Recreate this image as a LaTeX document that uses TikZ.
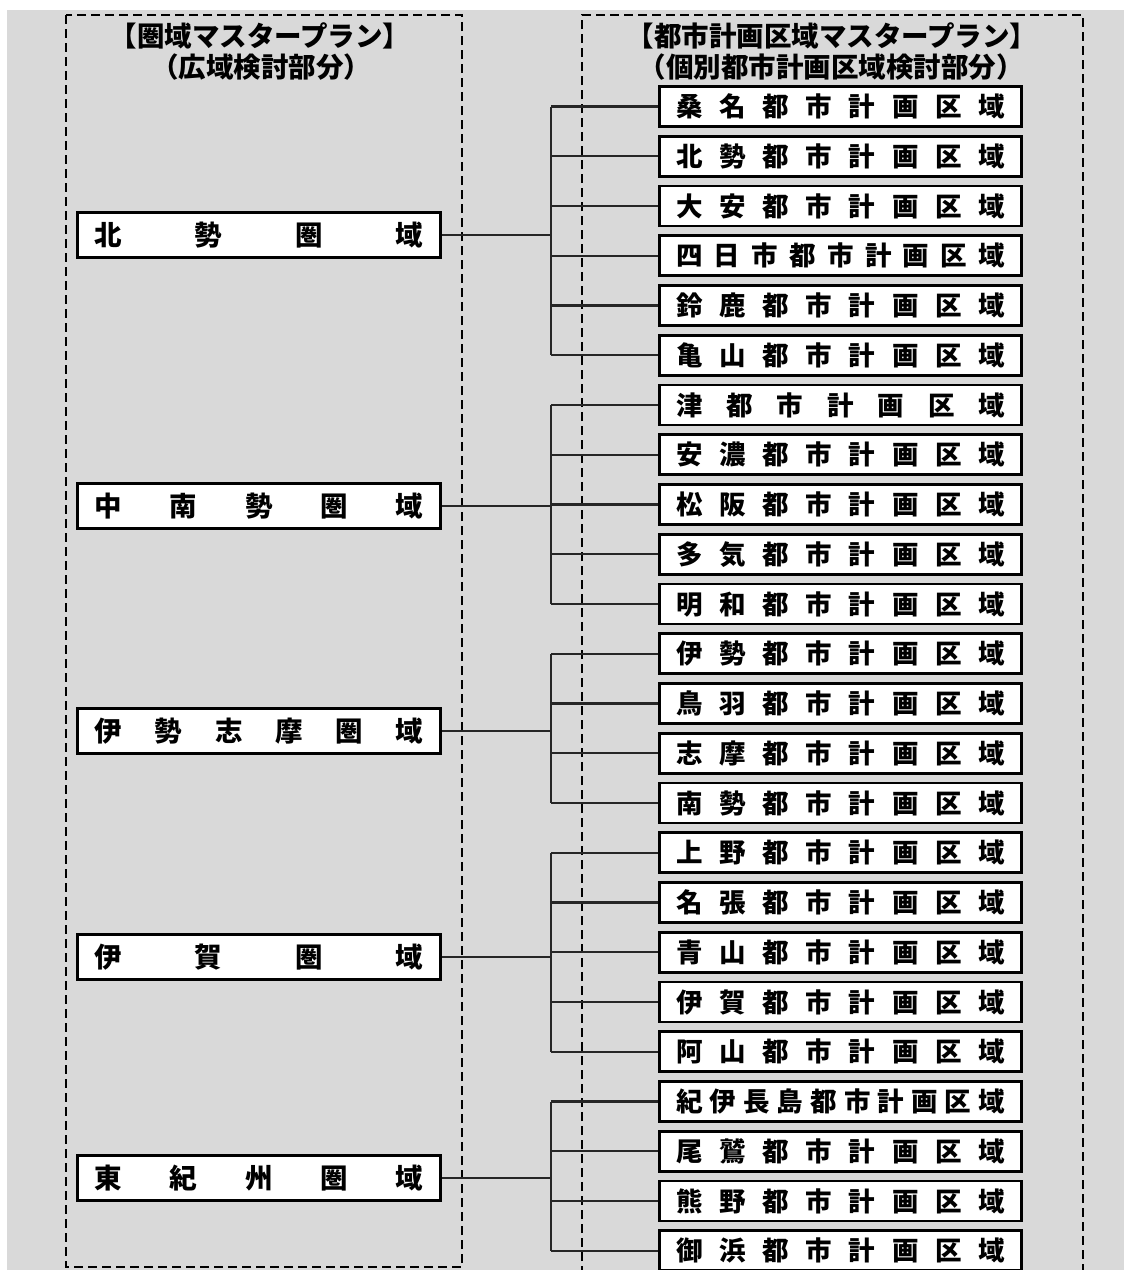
\documentclass[tikz,border=0pt]{standalone}
\usepackage{fontspec}
\newfontfamily\jp{Noto Sans CJK JP}
\definecolor{bg}{HTML}{D9D9D9}
\begin{document}
\begin{tikzpicture}[x=1pt,y=-1pt,
  lbox/.style={draw=black,line width=2.8pt,fill=white,minimum width=363pt,minimum height=45pt,inner sep=0pt,font=\jp\bfseries\fontsize{27.5}{27.5}\selectfont},
  rbox/.style={draw=black,line width=2.8pt,fill=white,minimum width=362pt,minimum height=40pt,inner sep=0pt,font=\jp\bfseries\fontsize{26.5}{26.5}\selectfont},
  frame/.style={dash pattern=on 9pt off 5pt,line width=2.6pt},
  conn/.style={line width=2.3pt,draw=black!85},
  hdr/.style={font=\jp\bfseries\fontsize{27.5}{27.5}\selectfont,inner sep=0pt}]
\useasboundingbox (0,0) rectangle (1124,1270);
\fill[bg] (7,10) rectangle (1124,1270);
% dashed frames
\draw[frame] (66,15) rectangle (462,1267);
\draw[frame] (582,1275) -- (582,15) -- (1083,15) -- (1083,1275);
% headers
\node[hdr] (H1) at (260,36) {【圏域マスタープラン】};
\node[hdr] (H2) at (261,67) {（広域検討部分）};
\node[hdr] (H3) at (832,36) {【都市計画区域マスタープラン】};
\node[hdr] (H4) at (831,67) {（個別都市計画区域検討部分）};
% left boxes
\node[lbox] (L1) at (259,235) {\makebox[329pt][s]{北 勢 圏 域}};
\node[lbox] (L2) at (259,506) {\makebox[329pt][s]{中 南 勢 圏 域}};
\node[lbox] (L3) at (259,731) {\makebox[329pt][s]{伊 勢 志 摩 圏 域}};
\node[lbox] (L4) at (259,957) {\makebox[329pt][s]{伊 賀 圏 域}};
\node[lbox] (L5) at (259,1178) {\makebox[329pt][s]{東 紀 州 圏 域}};
% right boxes
\foreach \t [count=\i] in {
  桑 名 都 市 計 画 区 域, 北 勢 都 市 計 画 区 域, 大 安 都 市 計 画 区 域,
  四 日 市 都 市 計 画 区 域, 鈴 鹿 都 市 計 画 区 域, 亀 山 都 市 計 画 区 域,
  津 都 市 計 画 区 域, 安 濃 都 市 計 画 区 域, 松 阪 都 市 計 画 区 域,
  多 気 都 市 計 画 区 域, 明 和 都 市 計 画 区 域,
  伊 勢 都 市 計 画 区 域, 鳥 羽 都 市 計 画 区 域, 志 摩 都 市 計 画 区 域,
  南 勢 都 市 計 画 区 域,
  上 野 都 市 計 画 区 域, 名 張 都 市 計 画 区 域, 青 山 都 市 計 画 区 域,
  伊 賀 都 市 計 画 区 域, 阿 山 都 市 計 画 区 域,
  紀 伊 長 島 都 市 計 画 区 域, 尾 鷲 都 市 計 画 区 域, 熊 野 都 市 計 画 区 域,
  御 浜 都 市 計 画 区 域}
  {\node[rbox] (R\i) at (840.5,{106.5+49.75*(\i-1)}) {\makebox[329pt][s]{\t}};}
% trunk position
\coordinate (T) at (551,0);
% connectors
\foreach \g/\a/\b in {1/1/6,2/7/11,3/12/15,4/16/20,5/21/24}{
  \draw[conn] (L\g.east) -- (L\g.east -| T);
  \draw[conn] (R\a.west -| T) -- (R\b.west -| T);
  \foreach \k in {\a,...,\b}{\draw[conn] (R\k.west -| T) -- (R\k.west);}
}
\end{tikzpicture}
\end{document}
